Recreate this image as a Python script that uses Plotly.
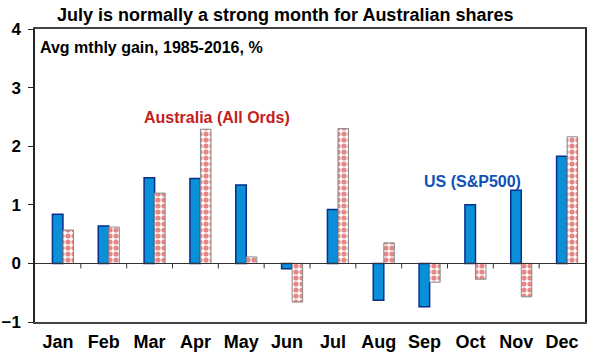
import plotly.graph_objects as go

months = ["Jan", "Feb", "Mar", "Apr", "May", "Jun", "Jul", "Aug", "Sep", "Oct", "Nov", "Dec"]
us_sp500 = [0.84, 0.64, 1.46, 1.45, 1.34, -0.09, 0.92, -0.63, -0.74, 1.00, 1.25, 1.83]
aus_allords = [0.57, 0.62, 1.20, 2.29, 0.11, -0.66, 2.30, 0.35, -0.32, -0.27, -0.57, 2.16]
y_ticks = [-1, 0, 1, 2, 3, 4]

FONT = "Liberation Sans"
L, R, T, B = 35, 11, 28.5, 37.3
PW, PH = 596 - L - R, 359 - T - B
YMIN, YMAX = -1, 4
TICK_PX = 5

fig = go.Figure()
fig.add_trace(go.Bar(
    x=months, y=us_sp500, name="US (S&P500)",
    width=0.23, offset=-0.12,
    marker=dict(color="#0a90d8", line=dict(color="#0a2f8a", width=1.5)),
))
fig.add_trace(go.Bar(
    x=months, y=aus_allords, name="Australia (All Ords)",
    width=0.23, offset=0.11,
    marker=dict(color="white", line=dict(color="#8a8a8a", width=1),
                pattern=dict(shape=".", fgcolor="#c80f0f", bgcolor="white", size=6, solidity=0.6)),
))

# tick marks hanging below the zero line, at the boundaries between months
boundaries = [i + 0.5 for i in range(len(months) - 1)]
tick_len = TICK_PX * (YMAX - YMIN) / PH
fig.add_trace(go.Scatter(
    x=boundaries, y=[0] * len(boundaries), xaxis="x2", mode="markers",
    marker=dict(size=1, color="rgba(0,0,0,0)"),
    error_y=dict(type="data", symmetric=False, array=[0] * len(boundaries),
                 arrayminus=[tick_len] * len(boundaries), width=0, thickness=1, color="#333"),
    hoverinfo="skip", showlegend=False,
))

fig.update_layout(
    width=596, height=359,
    margin=dict(l=L, r=R, t=T, b=B, autoexpand=False),
    paper_bgcolor="white", plot_bgcolor="white",
    barmode="overlay", showlegend=False,
    font=dict(family=FONT, color="black"),
    xaxis=dict(type="category", categoryorder="array", categoryarray=months,
               range=[-0.5, 11.5], showgrid=False, zeroline=False, automargin=False,
               showline=True, linecolor="#444", linewidth=1.5, mirror=True,
               ticks="", tickfont=dict(size=18, family=FONT, weight="bold"), ticklabelstandoff=3),
    xaxis2=dict(type="linear", overlaying="x", anchor="free", position=(0 - YMIN) / (YMAX - YMIN),
                range=[-0.5, 11.5], showticklabels=False, ticks="", showgrid=False,
                zeroline=False, automargin=False,
                showline=True, linecolor="#333", linewidth=1),
    yaxis=dict(range=[YMIN, YMAX], tickvals=y_ticks, showgrid=False, zeroline=False, automargin=False,
               showline=True, linecolor="#222", linewidth=1.5, mirror=True,
               ticks="outside", ticklen=5, tickcolor="#222", ticklabelstandoff=4,
               tickfont=dict(size=17, family=FONT, weight="bold")),
)

fig.add_annotation(text="<b>July is normally a strong month for Australian shares</b>",
                   xref="paper", yref="paper", x=(285 - L) / PW, y=1 + (T - 14) / PH,
                   xanchor="center", yanchor="middle", showarrow=False,
                   font=dict(size=18, family=FONT, color="black"))
fig.add_annotation(text="<b>Avg mthly gain, 1985-2016, %</b>",
                   xref="paper", yref="paper", x=(38 - L) / PW, y=1 - (47 - T) / PH,
                   xanchor="left", yanchor="middle", showarrow=False,
                   font=dict(size=16, family=FONT, color="black"))
fig.add_annotation(text="<b>Australia (All Ords)</b>",
                   xref="paper", yref="paper", x=(142 - L) / PW, y=1 - (117 - T) / PH,
                   xanchor="left", yanchor="middle", showarrow=False,
                   font=dict(size=16, family=FONT, color="#c42020"))
fig.add_annotation(text="<b>US (S&P500)</b>",
                   xref="paper", yref="paper", x=(422 - L) / PW, y=1 - (181 - T) / PH,
                   xanchor="left", yanchor="middle", showarrow=False,
                   font=dict(size=16, family=FONT, color="#1050b8"))

fig.write_html("out.html", config={"displayModeBar": False},
               post_script="document.body.style.margin='0';")
